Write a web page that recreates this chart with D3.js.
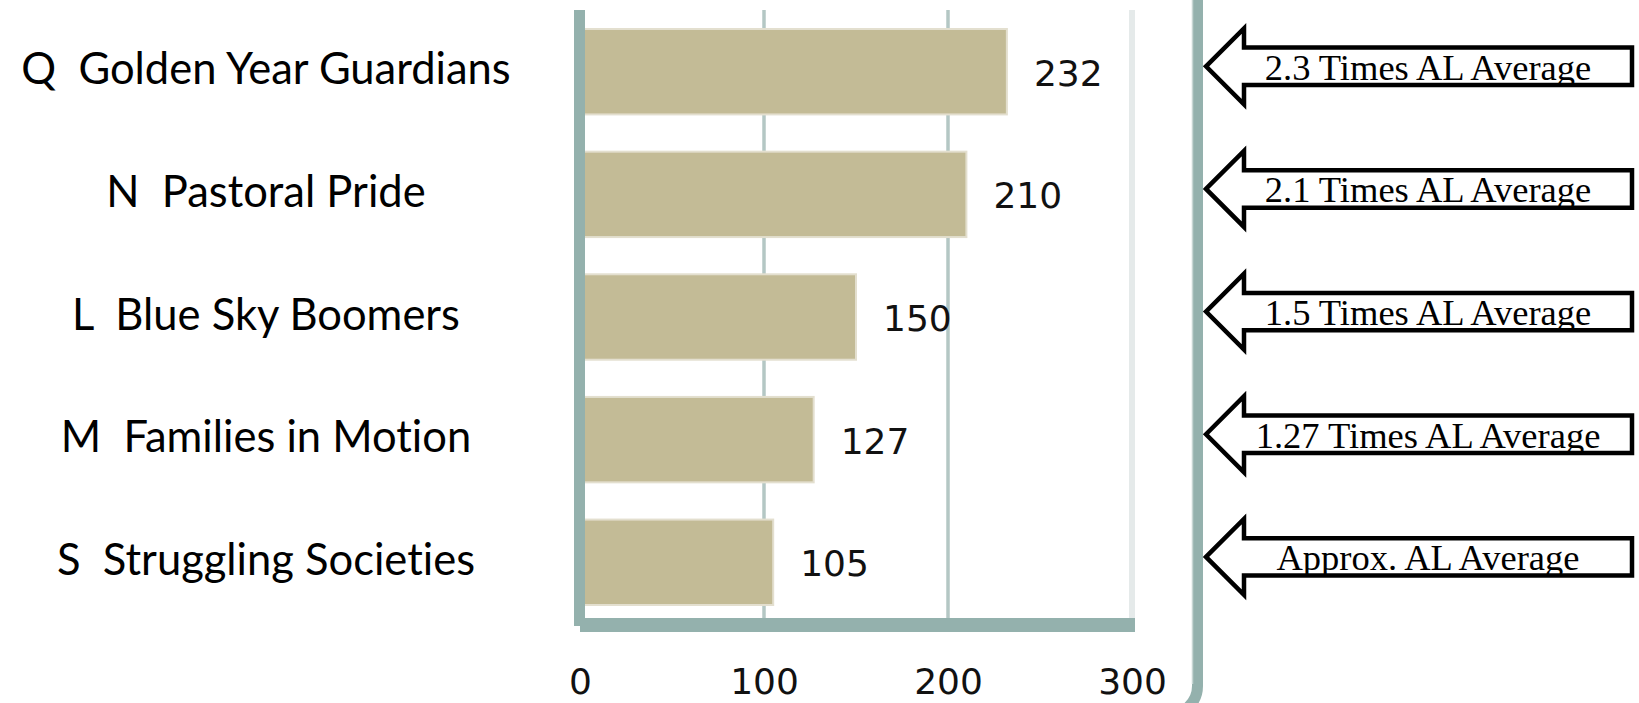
<!DOCTYPE html>
<html>
<head>
<meta charset="utf-8">
<script src="https://cdn.jsdelivr.net/npm/d3@7"></script>
<style>
  html, body { margin: 0; padding: 0; background: #ffffff; }
  svg { display: block; }
  .cat { font-variant-ligatures: none; font-feature-settings: "liga" 0, "clig" 0; }
</style>
</head>
<body>
<svg id="chart" width="1639" height="703"></svg>
<script>
// Segment names, index values and how each compares with the AL average
const categories = [
  "Q  Golden Year Guardians",
  "N  Pastoral Pride",
  "L  Blue Sky Boomers",
  "M  Families in Motion",
  "S  Struggling Societies"
];
const values = [232, 210, 150, 127, 105];
const notes = [
  "2.3 Times AL Average",
  "2.1 Times AL Average",
  "1.5 Times AL Average",
  "1.27 Times AL Average",
  "Approx. AL Average"
];
const ticks = [0, 100, 200, 300];

const W = 1639, H = 703;
const axisColor = "#94b1ad";
const gridColor = "#b4c7c4";
const barColor = "#c3bb96";

const svg = d3.select("#chart");
svg.append("rect").attr("width", W).attr("height", H).attr("fill", "#ffffff");

const x = d3.scaleLinear().domain([0, 300]).range([580, 1132]);
const y = d3.scaleBand().domain(categories).range([10.4, 623.6])
  .paddingInner(0.3035).paddingOuter(0.1517);
const plotTop = 10, plotBottom = 619;

// Vertical gridlines (the 300 line is a paler edge of the plot area)
svg.append("g").selectAll("line")
  .data(ticks.filter(t => t > 0))
  .join("line")
  .attr("x1", d => x(d)).attr("x2", d => x(d))
  .attr("y1", plotTop).attr("y2", plotBottom)
  .attr("stroke", d => d === 300 ? "#e5eaea" : gridColor)
  .attr("stroke-width", d => d === 300 ? 6 : 3.5);

// Bars
svg.append("g").selectAll("rect")
  .data(categories)
  .join("rect")
  .attr("x", x(0))
  .attr("y", d => y(d))
  .attr("width", (d, i) => x(values[i]) - x(0))
  .attr("height", y.bandwidth())
  .attr("fill", barColor)
  .attr("stroke", "#e3dfcf")
  .attr("stroke-width", 2);

// Axis lines: thick left and bottom rules
svg.append("rect")
  .attr("x", x(0) - 6).attr("y", plotTop)
  .attr("width", 11).attr("height", 626 - plotTop)
  .attr("fill", axisColor);
svg.append("rect")
  .attr("x", x(0)).attr("y", 618)
  .attr("width", x(300) + 3 - x(0)).attr("height", 14)
  .attr("fill", axisColor);

// Value labels to the right of each bar
svg.append("g").selectAll("text")
  .data(categories)
  .join("text")
  .attr("x", (d, i) => x(values[i]) + 27)
  .attr("y", d => y(d) + y.bandwidth() / 2 + 14)
  .attr("font-family", "'DejaVu Sans', Verdana, sans-serif")
  .attr("font-size", 36)
  .attr("fill", "#111")
  .text((d, i) => values[i]);

// Category labels
svg.append("g").selectAll("text")
  .data(categories)
  .join("text")
  .attr("class", "cat")
  .attr("x", 266)
  .attr("y", d => y(d) + y.bandwidth() / 2 + 12.5)
  .attr("text-anchor", "middle")
  .attr("font-family", "Lato, 'Open Sans', sans-serif")
  .attr("font-size", 43.5)
  .attr("fill", "#000")
  .attr("xml:space", "preserve")
  .style("white-space", "pre")
  .text(d => d);

// Bottom tick labels
const xAxis = svg.append("g")
  .attr("transform", "translate(0,632)")
  .call(d3.axisBottom(x).tickValues(ticks).tickSize(0).tickFormat(d3.format("d")));
xAxis.select(".domain").remove();
xAxis.selectAll("text")
  .attr("y", 62).attr("dy", 0)
  .attr("font-family", "'DejaVu Sans', Verdana, sans-serif")
  .attr("font-size", 36)
  .attr("fill", "#111");

// Slide frame edge on the right, curving at the bottom
svg.append("path")
  .attr("d", "M1197.5,-6 L1197.5,686 Q1197.5,700 1186,709")
  .attr("fill", "none")
  .attr("stroke", axisColor)
  .attr("stroke-width", 11);
svg.append("line")
  .attr("x1", 1192.5).attr("x2", 1192.5).attr("y1", 0).attr("y2", 684)
  .attr("stroke", "#c7d6d4").attr("stroke-width", 1.5);

// Left-pointing callout arrows with the comparison notes
const tipX = 1206, neckX = 1244, endX = 1632;
const headHalf = 38, shaftHalf = 18.7;
const arrowPath = cy => [
  [tipX, cy], [neckX, cy - headHalf], [neckX, cy - shaftHalf], [endX, cy - shaftHalf],
  [endX, cy + shaftHalf], [neckX, cy + shaftHalf], [neckX, cy + headHalf]
].map((p, i) => (i ? "L" : "M") + p[0] + "," + p[1]).join("") + "Z";

const defs = svg.append("defs");
const arrows = svg.append("g").selectAll("g")
  .data(categories)
  .join("g");

arrows.each(function (d, i) {
  const cy = y(d) + y.bandwidth() / 2 - 5.4;
  const g = d3.select(this);
  const id = "arrowClip" + i;
  defs.append("clipPath").attr("id", id)
    .append("path").attr("d", arrowPath(cy));
  g.append("path").attr("d", arrowPath(cy)).attr("fill", "#ffffff");
  g.append("text")
    .attr("clip-path", "url(#" + id + ")")
    .attr("x", 1428)
    .attr("y", cy + 13.5)
    .attr("text-anchor", "middle")
    .attr("font-family", "'Liberation Serif', 'Times New Roman', serif")
    .attr("font-size", 36.5)
    .attr("fill", "#000")
    .text(notes[i]);
  g.append("path").attr("d", arrowPath(cy))
    .attr("fill", "none")
    .attr("stroke", "#000")
    .attr("stroke-width", 4.5)
    .attr("stroke-linejoin", "miter");
});
</script>
</body>
</html>
